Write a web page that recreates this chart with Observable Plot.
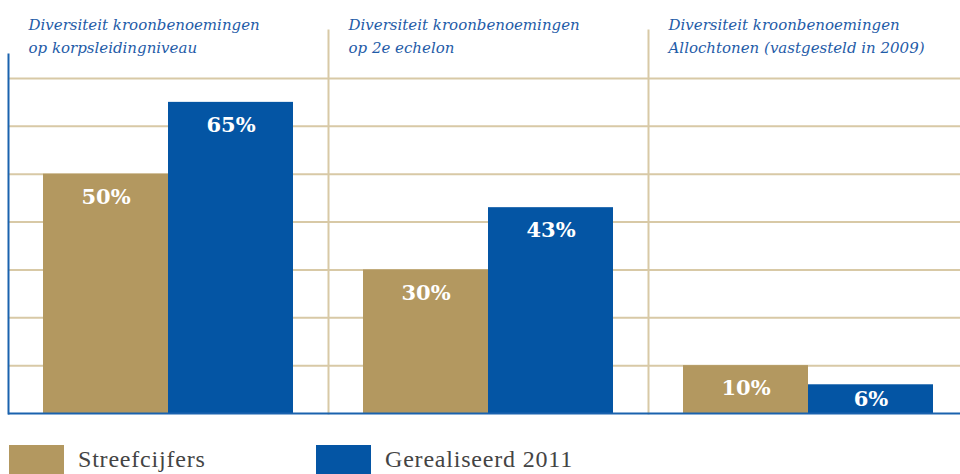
<!DOCTYPE html>
<html>
<head>
<meta charset="utf-8">
<script src="https://cdn.jsdelivr.net/npm/d3@7"></script>
<script src="https://cdn.jsdelivr.net/npm/@observablehq/plot@0.6"></script>
<style>
  html, body { margin: 0; padding: 0; background: #fff; overflow: hidden; width: 960px; height: 474px; }
  #chart svg { max-width: none !important; }
  #legend { position: relative; height: 44px; margin-top: 15px; font-family: "Liberation Serif", serif; font-size: 24px; color: #444; letter-spacing: 0.8px; }
  .item { position: absolute; top: 0; display: flex; align-items: flex-start; }
  .sw { width: 55px; height: 30px; }
  .lab { line-height: 28px; padding-top: 0; margin-left: 14px; white-space: nowrap; }
</style>
</head>
<body>
<div id="chart"></div>
<div id="legend"></div>
<script>
const panels = [
  "Diversiteit kroonbenoemingen\nop korpsleidingniveau",
  "Diversiteit kroonbenoemingen\nop 2e echelon",
  "Diversiteit kroonbenoemingen\nAllochtonen (vastgesteld in 2009)"
];
const series = ["Streefcijfers", "Gerealiseerd 2011"];
const streefcijfers = [50, 30, 10];
const gerealiseerd = [65, 43, 6];
const gridTicks = [10, 20, 30, 40, 50, 60, 70];

const TAN = "#b39860";
const BLUE = "#0455a4";
const GRID = "#d8c9a6";
const AXIS = "#1a62ae";

const data = [];
panels.forEach((p, i) => {
  data.push({panel: p, series: series[0], value: streefcijfers[i]});
  data.push({panel: p, series: series[1], value: gerealiseerd[i]});
});

const chart = Plot.plot({
  width: 968,
  height: 430,
  marginLeft: 8,
  marginRight: 0,
  marginTop: 54,
  marginBottom: 17,
  style: {fontFamily: "DejaVu Serif, serif", background: "#fff", maxWidth: "none"},
  fx: {domain: panels, padding: 0, axis: null},
  x: {domain: series, paddingInner: 0, paddingOuter: 0.28, axis: null},
  y: {domain: [0, 75], axis: null},
  color: {domain: series, range: [TAN, BLUE]},
  marks: [
    Plot.gridY(gridTicks, {stroke: GRID, strokeOpacity: 1, strokeWidth: 2}),
    Plot.frame({anchor: "right", stroke: GRID, strokeWidth: 2, insetTop: -24}),
    Plot.barY(data, {fx: "panel", x: "series", y: "value", fill: "series"}),
    Plot.ruleY([0], {stroke: AXIS, strokeWidth: 2}),
    Plot.frame({anchor: "left", facetAnchor: "left", stroke: AXIS, strokeWidth: 2}),
    Plot.text(data, {
      fx: "panel", x: "series",
      y: d => Math.max(d.value - 4.8, d.value / 2),
      text: d => d.value + "%",
      fill: "white", fontWeight: "bold", fontSize: 21
    }),
    Plot.text(panels, {
      fx: d => d, text: d => d,
      frameAnchor: "top-left", lineAnchor: "top", textAnchor: "start",
      dx: 20, dy: -40, lineHeight: 1.5,
      fill: "#1f5ca8", fontStyle: "italic", fontSize: 15
    })
  ]
});
document.getElementById("chart").appendChild(chart);

const legend = document.getElementById("legend");
const legendX = [9, 316];
series.forEach((s, i) => {
  const item = document.createElement("div");
  item.className = "item";
  item.style.left = legendX[i] + "px";
  const sw = document.createElement("div");
  sw.className = "sw";
  sw.style.background = i === 0 ? TAN : BLUE;
  const lab = document.createElement("span");
  lab.className = "lab";
  lab.textContent = s;
  item.appendChild(sw);
  item.appendChild(lab);
  legend.appendChild(item);
});
</script>
</body>
</html>
